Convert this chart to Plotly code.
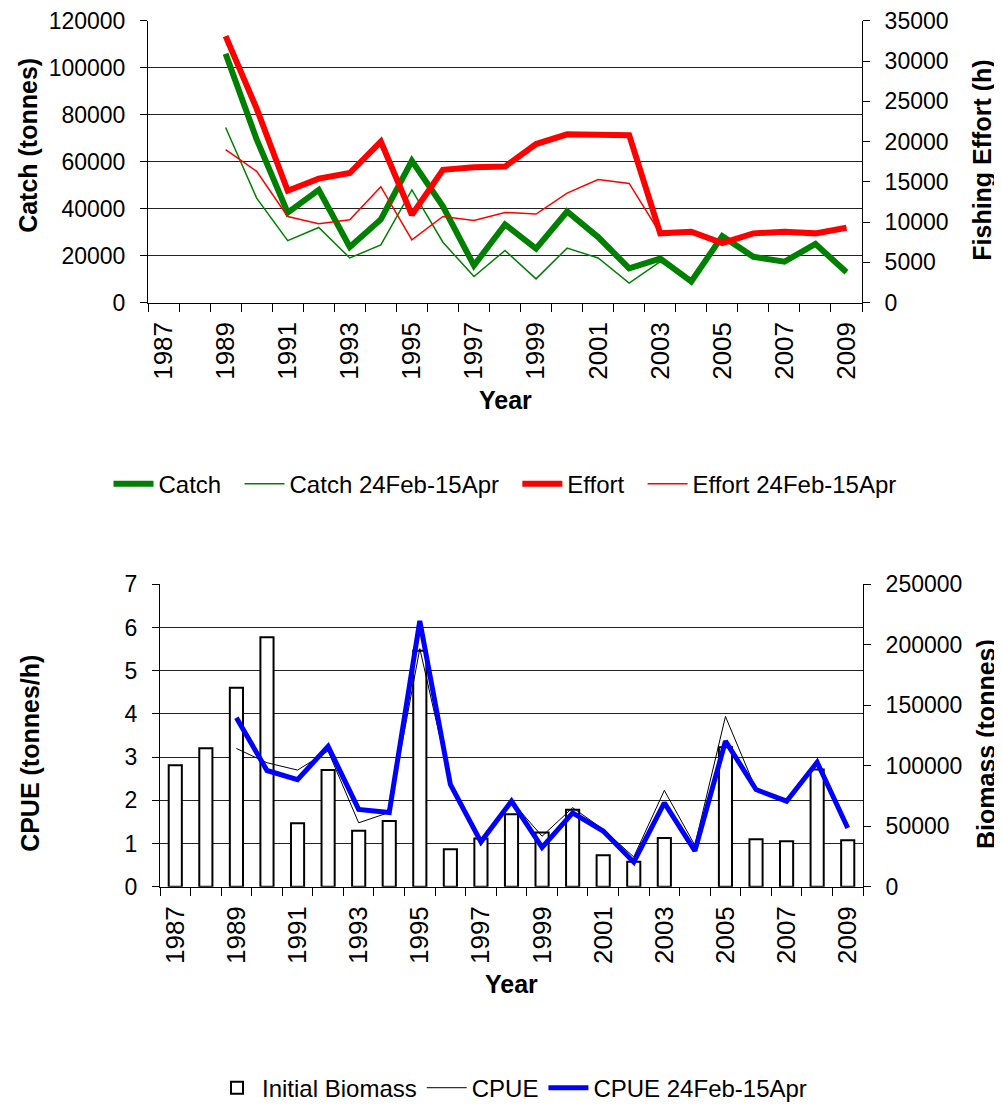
import plotly.graph_objects as go

years = list(range(1987, 2010))

# top chart: catch (tonnes) and fishing effort (h)
catch = [None, None, 106000, 69500, 38300, 48000, 23700, 35400, 60400, 41000, 15800, 33300,
         23000, 38800, 27900, 14600, 18700, 9000, 28300, 19500, 17400, 25000, 12900]
catch_season = [None, None, 74600, 44500, 26400, 32000, 19000, 24600, 48000, 25700, 11100, 22200,
                10100, 23200, 19000, 8300, 17400, 9000, 28300, 19500, 17400, 25000, 12900]
effort = [None, None, 33100, 24100, 13900, 15400, 16100, 20000, 10900, 16500, 16800, 16900,
          19700, 20900, 20850, 20800, 8600, 8800, 7400, 8600, 8800, 8600, 9300]
effort_season = [None, None, 19000, 16300, 10700, 9800, 10300, 14400, 7800, 10700, 10200, 11200,
                 11000, 13600, 15300, 14800, 8600, 8800, 7400, 8600, 8800, 8600, 9300]

# bottom chart: CPUE (tonnes/h) and initial biomass (tonnes)
biomass = [100500, 114500, 164500, 206300, 52500, 96400, 46200, 54400, 195000, 31000, 39800, 60000,
           44800, 63700, 26100, 20600, 40400, None, 115400, 39300, 37600, 97000, 38500]
cpue = [None, None, 3.2, 2.87, 2.70, 3.14, 1.48, 1.72, 5.51, 2.40, 0.96, 1.98,
        1.17, 1.83, 1.33, 0.69, 2.23, 0.96, 3.94, 2.25, 1.98, 2.88, 1.36]
cpue_season = [None, None, 3.91, 2.69, 2.48, 3.25, 1.79, 1.72, 6.15, 2.37, 1.04, 1.98,
               0.91, 1.71, 1.29, 0.57, 1.94, 0.83, 3.37, 2.25, 1.98, 2.88, 1.36]

odd_years = [y for y in years if y % 2 == 1]
bounds = [y - 0.5 for y in years] + [years[-1] + 0.5]

# the page body keeps its default 8px margin, so the figure is drawn 8px in
PAD = 8
W, H = 1002 - PAD, 1111 - PAD
FONT = "Liberation Sans"
SP = "\u00a0\u00a0"  # a little extra room after each top legend entry


def px(x):
    return (x - PAD) / W


def py(y):
    return 1 - (y - PAD) / H


fig = go.Figure()

# top chart
fig.add_trace(go.Scatter(x=years, y=catch_season, name="Catch 24Feb-15Apr" + SP, mode="lines",
                         line=dict(color="#008000", width=1.5), legendrank=2,
                         xaxis="x", yaxis="y"))
fig.add_trace(go.Scatter(x=years, y=catch, name="Catch" + SP, mode="lines",
                         line=dict(color="#008000", width=6), legendrank=1,
                         xaxis="x", yaxis="y"))
fig.add_trace(go.Scatter(x=years, y=effort_season, name="Effort 24Feb-15Apr", mode="lines",
                         line=dict(color="#FF0000", width=1.5), legendrank=4,
                         xaxis="x", yaxis="y2"))
fig.add_trace(go.Scatter(x=years, y=effort, name="Effort" + SP, mode="lines",
                         line=dict(color="#FF0000", width=6), legendrank=3,
                         xaxis="x", yaxis="y2"))

# bottom chart (bars on the base axis so the lines sit on top)
fig.add_trace(go.Bar(x=years, y=biomass, name="Initial Biomass", width=0.43,
                     marker=dict(color="white", line=dict(color="black", width=2)),
                     legend="legend2", legendrank=1, xaxis="x3", yaxis="y3"))
fig.add_trace(go.Scatter(x=years, y=cpue, name="CPUE", mode="lines",
                         line=dict(color="black", width=1), legend="legend2", legendrank=2,
                         xaxis="x3", yaxis="y4"))
fig.add_trace(go.Scatter(x=years, y=cpue_season, name="CPUE 24Feb-15Apr", mode="lines",
                         line=dict(color="#0000FF", width=5), legend="legend2", legendrank=3,
                         xaxis="x3", yaxis="y4"))

tick_font = dict(family=FONT, size=23, color="black")
xtick_font = dict(family=FONT, size=26, color="black")


def xaxis(domain, anchor):
    return dict(domain=domain, anchor=anchor, range=[1986.5, 2009.5], automargin=False,
                tickvals=odd_years, ticktext=[str(y) for y in odd_years], tickangle=-90,
                ticks="", ticklabelstandoff=8, tickfont=xtick_font,
                ticklabeloverflow="allow",
                minor=dict(tickvals=bounds, ticks="outside", ticklen=8, tickcolor="black",
                           showgrid=False),
                showline=True, linecolor="black", linewidth=1, showgrid=False,
                zeroline=False, fixedrange=True)


def yaxis(rng, step, **kw):
    d = dict(range=rng, dtick=step, tickformat="d", automargin=False,
             ticks="outside", ticklen=7, tickcolor="black", tickfont=tick_font,
             ticklabelstandoff=10, ticklabeloverflow="allow",
             showline=True, linecolor="black", linewidth=1,
             showgrid=False, zeroline=False, fixedrange=True)
    d.update(kw)
    return d


fig.update_layout(
    template="none",
    width=W, height=H,
    margin=dict(l=0, r=0, t=0, b=0),
    paper_bgcolor="white", plot_bgcolor="white",
    font=dict(family=FONT, color="black"),
    barmode="overlay",
    xaxis=xaxis([px(148), px(862)], "y"),
    yaxis=yaxis([0, 120000], 20000, domain=[py(305), py(21)], anchor="x",
                showgrid=True, gridcolor="#222222", gridwidth=1),
    yaxis2=yaxis([0, 35000], 5000, overlaying="y", side="right", anchor="x"),
    xaxis3=xaxis([px(160), px(863)], "y3"),
    yaxis3=yaxis([0, 250000], 50000, domain=[py(894), py(589)], anchor="x3", side="right"),
    yaxis4=yaxis([0, 7], 1, overlaying="y3", side="left", anchor="x3",
                 showgrid=True, gridcolor="#222222", gridwidth=1),
    legend=dict(orientation="h", x=px(505), xanchor="center", y=py(488), yanchor="middle",
                font=dict(family=FONT, size=24), traceorder="normal",
                itemwidth=40, bgcolor="rgba(0,0,0,0)"),
    legend2=dict(orientation="h", x=px(512), xanchor="center", y=py(1097), yanchor="middle",
                 font=dict(family=FONT, size=24), traceorder="normal",
                 itemwidth=40, bgcolor="rgba(0,0,0,0)"),
    showlegend=True,
)

title_font = dict(family=FONT, size=25, color="black", weight="bold")
titles = [
    ("Catch (tonnes)", 28, 147, -90),
    ("Fishing Effort (h)", 982, 162, -90),
    ("Year", 505, 403, 0),
    ("CPUE (tonnes/h)", 30, 760, -90),
    ("Biomass (tonnes)", 986, 750, -90),
    ("Year", 511, 992, 0),
]
for text, x, y, angle in titles:
    fig.add_annotation(text=text, x=px(x), y=py(y), xref="paper", yref="paper",
                       showarrow=False, textangle=angle, font=title_font,
                       xanchor="center", yanchor="middle")

fig.write_html("out.html")
